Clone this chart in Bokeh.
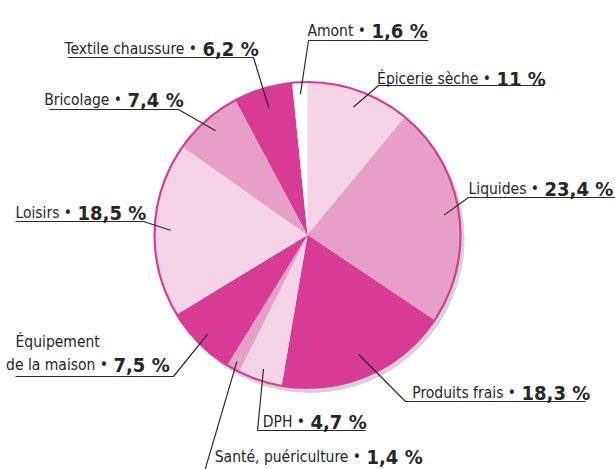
import math
from bokeh.plotting import figure
from bokeh.models import Range1d, ColumnDataSource
from bokeh.core.properties import value
from bokeh.embed import file_html
from bokeh.resources import INLINE

# ---- data ----
categories = ["Épicerie sèche", "Liquides", "Produits frais", "DPH",
              "Santé, puériculture", "Équipement\nde la maison", "Loisirs",
              "Bricolage", "Textile chaussure", "Amont"]
shares = [11, 23.4, 18.3, 4.7, 1.4, 7.5, 18.5, 7.4, 6.2, 1.6]

# ---- styles / layout (page pixel coordinates) ----
LIGHT, MEDIUM, STRONG = "#F4D3E7", "#E6A0C6", "#D83B95"
slice_colors = [LIGHT, MEDIUM, STRONG, LIGHT, MEDIUM, STRONG, LIGHT, MEDIUM, STRONG, "#FFFFFF"]
CX, CY, R = 307, 234.5, 153
FONT = "DejaVu Sans Condensed, Liberation Sans Narrow, Roboto, sans-serif"
TXT = "#262626"
W, H = 615, 469

name_x   = [382, 470, 410, 269, 218, 15, 13, 46, 65, 312]
base_y   = [78, 188, 392, 421, 456, 364, 212, 99, 48, 30]
value_x  = [496, 544, 521, 310, 366, 113, 77, 127, 202, 371]
elbow_x  = [378, 468, 405, 257, 202, 173, 143, 178, 253, 308]
elbow_y  = [85, 197, 401, 430, 478, 376, 221, 109, 57, 40]
uline_x  = [543, 615, 585, 365, 202, 15, 15, 49, 67, 428]
lead_r   = [136, 138, 130, 141, 145, 141, 137, 139, 133, 141]
LINE_GAP = 23

p = figure(width=W, height=H, output_backend="svg", toolbar_location=None,
           x_range=Range1d(0, W), y_range=Range1d(-H, 0),
           min_border=0, outline_line_color=None)
p.axis.visible = False
p.grid.visible = False
p.background_fill_color = "white"
p.border_fill_color = "white"

# shadow
p.circle(x=[CX + 3], y=[-(CY + 4)], radius=R + 1, fill_color="#D4D4D7", line_color=None)

# wedges
total = sum(shares)
starts, ends, mids = [], [], []
cum = 0.0
for s in shares:
    a0 = math.pi / 2 - 2 * math.pi * cum / total
    cum += s
    a1 = math.pi / 2 - 2 * math.pi * cum / total
    starts.append(a0)
    ends.append(a1)
    mids.append((a0 + a1) / 2)

src = ColumnDataSource(dict(start=starts, end=ends, color=slice_colors,
                            x=[CX] * len(shares), y=[-CY] * len(shares)))
p.wedge(x="x", y="y", radius=R, start_angle="start", end_angle="end",
        direction="clock", fill_color="color", line_color=None, source=src)
# outline
p.circle(x=[CX], y=[-CY], radius=R, fill_color=None, line_color=STRONG, line_width=2.2)

# leader lines
xs, ys = [], []
for i, m in enumerate(mids):
    px = CX + lead_r[i] * math.cos(m)
    py = CY - lead_r[i] * math.sin(m)
    xs.append([px, elbow_x[i], uline_x[i]])
    ys.append([-py, -elbow_y[i], -elbow_y[i]])
p.multi_line(xs=xs, ys=ys, line_color="#2a2a2a", line_width=1.2)

# name labels: last line ends with a bullet, right-aligned against the value
lx, ly, lt, rx, ry, rt = [], [], [], [], [], []
for i, name in enumerate(categories):
    lines = name.split("\n")
    for j, ln in enumerate(lines):
        off = (len(lines) - 1 - j) * LINE_GAP
        if j == len(lines) - 1:
            rx.append(value_x[i] - 1)
            ry.append(-base_y[i])
            rt.append(ln + " • ")
        else:
            lx.append(name_x[i])
            ly.append(-(base_y[i] - off))
            lt.append(ln)
common = dict(text_font=value(FONT), text_font_size="15.5px", text_color=TXT,
              text_baseline="alphabetic")
p.text(x=rx, y=ry, text=rt, text_align="right", **common)
p.text(x=lx, y=ly, text=lt, text_align="left", **common)

vals = [("%g" % s).replace(".", ",") + " %" for s in shares]
p.text(x=value_x, y=[-b for b in base_y], text=vals, text_font=value(FONT),
       text_font_size="20px", text_font_style="bold", text_color=TXT,
       text_baseline="alphabetic", text_align="left")

open("out.html", "w").write(file_html(p, INLINE))
